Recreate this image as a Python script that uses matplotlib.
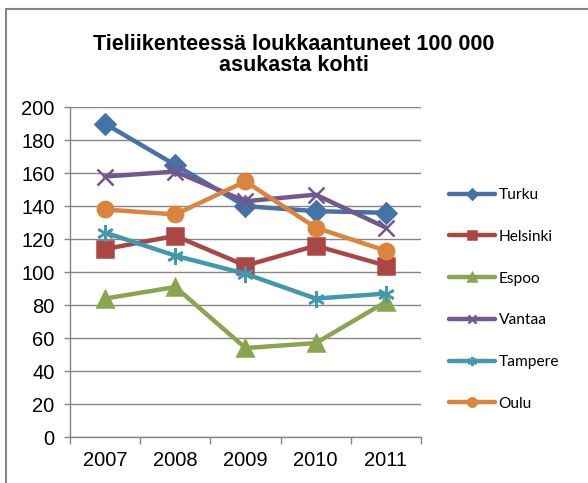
import matplotlib.pyplot as plt
from matplotlib.lines import Line2D

years = ['2007', '2008', '2009', '2010', '2011']
cities = ['Turku', 'Helsinki', 'Espoo', 'Vantaa', 'Tampere', 'Oulu']
turku = [190, 165, 140, 137, 136]
helsinki = [114, 122, 104, 116, 104]
espoo = [84, 91, 54, 57, 82]
vantaa = [158, 161, 143, 147, 127]
tampere = [124, 110, 99, 84, 87]
oulu = [138, 135, 155, 127, 113]
series = [turku, helsinki, espoo, vantaa, tampere, oulu]

colors = ['#4572A7', '#AA4643', '#89A54E', '#71588F', '#4198AF', '#DB843D']
markers = ['D', 's', '^', 'x', (6, 2, 0), 'o']
sizes = [10, 11, 11, 11, 12, 11]

fig = plt.figure(figsize=(5.88, 4.83), dpi=100)
ax = fig.add_axes([0.119, 0.095, 0.597, 0.683])

x = list(range(len(years)))
handles = []
for name, vals, c, m, s in zip(cities, series, colors, markers, sizes):
    h, = ax.plot(x, vals, color=c, lw=3.2, marker=m, ms=s, mew=1.8,
                 mec=c, mfc=c, label=name, solid_capstyle='round')
    handles.append(h)

ax.set_xlim(-0.5, 4.5)
ax.set_ylim(0, 200)
ax.set_yticks(range(0, 201, 20))
ax.set_xticks(x)
ax.set_xticklabels(years)
ax.set_xticks([i - 0.5 for i in range(6)], minor=True)
ax.tick_params(axis='x', which='major', length=0, pad=10, labelsize=14.5)
ax.tick_params(axis='x', which='minor', length=5, color='#868686', width=1)
ax.tick_params(axis='y', length=4, color='#868686', width=1, pad=7, labelsize=14.5)
ax.grid(axis='y', color='#868686', lw=1)
ax.set_axisbelow(True)
for sp in ['top', 'right']:
    ax.spines[sp].set_visible(False)
for sp in ['left', 'bottom']:
    ax.spines[sp].set_color('#868686')
    ax.spines[sp].set_linewidth(1)
for t in ax.get_xticklabels() + ax.get_yticklabels():
    t.set_family('Liberation Sans')

fig.text(0.5, 0.886, 'Tieliikenteessä loukkaantuneet 100 000\nasukasta kohti',
         ha='center', va='center', fontsize=15.5, fontweight='bold',
         family='Liberation Sans', linespacing=1.05)

leg = fig.legend(handles=handles, loc='center left', bbox_to_anchor=(0.75, 0.38),
                 frameon=False, prop={'family': 'Lato', 'size': 11.2},
                 handlelength=3.0, handletextpad=0.2, labelspacing=1.78,
                 markerscale=0.55, borderpad=0)

# chart area border (only left and top edges visible in the crop)
fig.lines.append(Line2D([0.0102, 0.0102], [0.0, 0.981], transform=fig.transFigure,
                        color='#868686', lw=1.5))
fig.lines.append(Line2D([0.0102, 1.0], [0.981, 0.981], transform=fig.transFigure,
                        color='#868686', lw=1.5))

fig.savefig('out.png', dpi=100)
